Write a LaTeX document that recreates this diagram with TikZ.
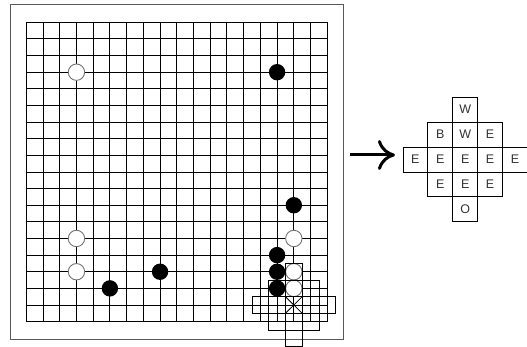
\documentclass[tikz,border=0pt]{standalone}
\usepackage{fontspec}
\setmainfont{Liberation Sans}
\usetikzlibrary{positioning,arrows.meta}

\begin{document}
\begin{tikzpicture}[x=1pt,y=1pt,
  stone/.style={circle,inner sep=0pt,minimum size=16.4pt},
  wstone/.style={stone,draw=black!55,line width=0.9pt,fill=white},
  bstone/.style={stone,fill=black},
  probe/.style={draw,line width=0.8pt,inner sep=0pt,outer sep=0pt,minimum width=16.72pt,minimum height=16.63pt},
  cellbox/.style={draw,line width=0.8pt,inner sep=0pt,outer sep=0pt,minimum size=24.9pt,
    text=black!80,font=\fontsize{12.5}{14}\selectfont},
  bigarrow/.style={line width=3pt,-{Computer Modern Rightarrow[length=17pt,width=30pt]}}]
  \useasboundingbox (0,0) rectangle (527,347);
  \node[draw=black!65,line width=0.9pt,minimum width=333pt,minimum height=334.5pt,
    inner sep=0pt,outer sep=0pt] (frame) at (176.5,175.25) {};

  % board, counted in intersections from the top left corner
  \begin{scope}[shift={(26.3,324.7)},x=16.72pt,y=-16.63pt]
    \foreach \i in {0,...,18} {
      \draw[line width=0.9pt] (\i,0) -- (\i,18);
      \draw[line width=0.9pt] (0,\i) -- (18,\i);
    }
    \node[wstone] (w1) at (3,3) {};
    \node[wstone] (w2) at (3,13) {};
    \node[wstone] (w3) at (3,15) {};
    \node[wstone] (w4) at (16,13) {};
    \node[wstone] (w5) at (16,15) {};
    \node[wstone] (w6) at (16,16) {};
    \node[bstone] (b1) at (15,3) {};
    \node[bstone] (b2) at (16,11) {};
    \node[bstone] (b3) at (8,15) {};
    \node[bstone] (b4) at (5,16) {};
    \node[bstone] (b5) at (15,14) {};
    \node[bstone] (b6) at (15,15) {};
    \node[bstone] (b7) at (15,16) {};
    % neighbourhood of the empty point
    \node[probe] (pnn) at (16,15) {};
    \node[probe] (pnw) at (15,16) {};
    \node[probe] (pn) at (16,16) {};
    \node[probe] (pne) at (17,16) {};
    \node[probe] (pww) at (14,17) {};
    \node[probe] (pw) at (15,17) {};
    \node[probe] (pc) at (16,17) {};
    \node[probe] (pe) at (17,17) {};
    \node[probe] (pee) at (18,17) {};
    \node[probe] (psw) at (15,18) {};
    \node[probe] (ps) at (16,18) {};
    \node[probe] (pse) at (17,18) {};
    \node[probe] (pss) at (16,19) {};
    \draw[line width=0.8pt] (pc.north west) -- (pc.south east) (pc.north east) -- (pc.south west);
  \end{scope}

  % the same neighbourhood, read off
  \node[cellbox] (cc) at (465.2,187.5) {E};
  \node[cellbox,left=0pt of cc] (cw) {E};
  \node[cellbox,left=0pt of cw] (cww) {E};
  \node[cellbox,right=0pt of cc] (ce) {E};
  \node[cellbox,right=0pt of ce] (cee) {E};
  \node[cellbox,above=0pt of cc] (cn) {W};
  \node[cellbox,above=0pt of cn] (cnn) {W};
  \node[cellbox,left=0pt of cn] (cnw) {B};
  \node[cellbox,right=0pt of cn] (cne) {E};
  \node[cellbox,below=0pt of cc] (cs) {E};
  \node[cellbox,below=0pt of cs] (css) {O};
  \node[cellbox,left=0pt of cs] (csw) {E};
  \node[cellbox,right=0pt of cs] (cse) {E};

  \coordinate (arry) at (0,192);
  \draw[bigarrow,shorten <=7pt,shorten >=8pt] (frame.east |- arry) -- (cww.west |- arry);
\end{tikzpicture}
\end{document}
